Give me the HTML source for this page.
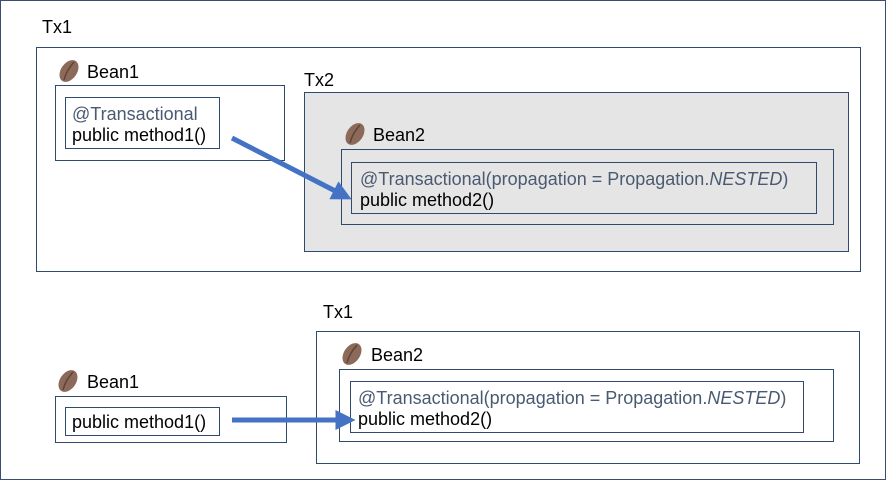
<!DOCTYPE html>
<html><head><meta charset="utf-8"><style>
body{margin:0;width:886px;height:480px;background:#fff;overflow:hidden}
svg text{font-family:"Liberation Sans",sans-serif;font-size:18px;fill:#000}
</style></head><body>
<svg width="886" height="480" viewBox="0 0 886 480" xmlns="http://www.w3.org/2000/svg">
<defs>
<g id="bean"><ellipse cx="0" cy="0" rx="8" ry="12" transform="rotate(35)" fill="#8b6a5a"/><path d="M5,-9 Q-3,0 -5,9" stroke="#5e4438" stroke-width="1.5" fill="none" /></g>
<marker id="ah" markerWidth="4" markerHeight="4" refX="2.5" refY="2" orient="auto"><path d="M0,0 L4,2 L0,4 z" fill="#4472c4"/></marker>
</defs>
<rect x="0.5" y="0.5" width="885" height="479" fill="none" stroke="#3a4f6e" stroke-width="1"/>
<g fill="none" stroke="#2f4a6d" stroke-width="1">
<rect x="36.5" y="47.5" width="824" height="224"/>
<rect x="55.5" y="85.5" width="229" height="75"/>
<rect x="65.5" y="97.5" width="154" height="51"/>
<rect x="304.5" y="92.5" width="544" height="159" fill="#e6e5e6"/>
<rect x="341.5" y="149.5" width="492" height="75"/>
<rect x="351.5" y="162.5" width="465" height="51"/>
<rect x="316.5" y="331.5" width="543" height="132"/>
<rect x="339.5" y="369.5" width="494" height="72"/>
<rect x="350.5" y="381.5" width="453" height="51"/>
<rect x="55.5" y="396.5" width="231" height="46"/>
<rect x="65.5" y="407.5" width="154" height="28"/>
</g>
<text x="42" y="33">Tx1</text>
<use href="#bean" x="69" y="71"/><text x="87" y="78">Bean1</text>
<text x="72" y="120" style="fill:#4a5a70">@Transactional</text>
<text x="72" y="141">public method1()</text>
<text x="304" y="86">Tx2</text>
<use href="#bean" x="355" y="134"/><text x="373" y="141">Bean2</text>
<text x="360" y="185" style="fill:#4a5a70">@Transactional(propagation = Propagation.<tspan font-style="italic">NESTED</tspan>)</text>
<text x="360" y="206">public method2()</text>
<line x1="232" y1="138" x2="345" y2="196" stroke="#4472c4" stroke-width="5" marker-end="url(#ah)"/>
<text x="323" y="318">Tx1</text>
<use href="#bean" x="352" y="354"/><text x="371" y="361">Bean2</text>
<text x="358" y="404" style="fill:#4a5a70">@Transactional(propagation = Propagation.<tspan font-style="italic">NESTED</tspan>)</text>
<text x="358" y="425">public method2()</text>
<use href="#bean" x="68" y="381"/><text x="87" y="388">Bean1</text>
<text x="72" y="428">public method1()</text>
<line x1="232" y1="420" x2="348" y2="420" stroke="#4472c4" stroke-width="5" marker-end="url(#ah)"/>
</svg>
</body></html>
